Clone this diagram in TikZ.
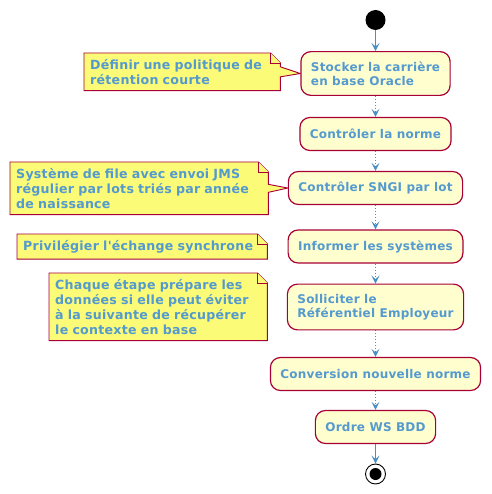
\documentclass[tikz,border=0pt]{standalone}
\usepackage{fontspec}
\setmainfont{DejaVu Sans}[Ligatures=TeXOff, LetterSpace=2]
\usepackage{tikz}
\usetikzlibrary{arrows.meta}
\definecolor{umltext}{RGB}{84,154,206}
\definecolor{umlarrow}{RGB}{74,143,196}
\definecolor{umlborder}{HTML}{A80036}
\definecolor{umlfill}{HTML}{FEFECE}
\definecolor{umlnote}{HTML}{FBFB77}
\pgfdeclarelayer{nodelayer}
\pgfdeclarelayer{edgelayer}
\pgfsetlayers{edgelayer,nodelayer,main}
\tikzstyle{activity}=[fill=umlfill, draw=umlborder, line width=1.2pt, rounded corners=10pt, shape=rectangle, align=left, inner xsep=10pt, inner ysep=10pt, minimum height=33pt, text=umltext, font=\fontsize{12}{14}\selectfont\bfseries]
\tikzstyle{comment}=[shape=rectangle, anchor=north west, align=left, inner xsep=6pt, inner ysep=6pt, text=umltext, font=\fontsize{12.6}{15}\selectfont\bfseries]
\tikzstyle{comment shape}=[fill=umlnote, draw=umlborder, line width=0.9pt]
\tikzstyle{start node}=[shape=circle, fill=black, minimum size=20pt, inner sep=0pt]
\tikzstyle{end node}=[shape=circle, draw=black, fill=white, line width=0.9pt, minimum size=20pt, inner sep=0pt]
\tikzstyle{flow}=[draw=umlarrow, line width=1.1pt, -{Stealth[length=8pt, width=8pt, inset=3.5pt]}]
\tikzstyle{dotted flow}=[flow, dash pattern=on 1pt off 2pt]

\begin{document}
\begin{tikzpicture}[x=1pt, y=-1pt]
	\useasboundingbox (0, 0) rectangle (491, 494);
	\begin{pgfonlayer}{nodelayer}
		\node [style=start node] (0) at (375.5, 20) {};
		\node [style=activity] (1) at (375.5, 73.5) {Stocker la carrière\\en base Oracle};
		\node [style=activity] (2) at (375.5, 134) {Contrôler la norme};
		\node [style=activity] (3) at (375.5, 188) {Contrôler SNGI par lot};
		\node [style=activity] (4) at (375.5, 246.5) {Informer les systèmes};
		\node [style=activity] (5) at (375.5, 307) {Solliciter le\\Référentiel Employeur};
		\node [style=activity] (6) at (375.5, 374) {Conversion nouvelle norme};
		\node [style=activity] (7) at (375.5, 427) {Ordre WS BDD};
		\node [style=end node] (8) at (375.5, 474) {};
		\fill (8) circle (6pt);
		% notes
		\node [style=comment, text width=184pt] (9) at (84, 53) {Définir une politique de\\rétention courte};
		\node [style=comment, text width=246pt] (10) at (10, 162) {Système de file avec envoi JMS\\régulier par lots triés par année\\de naissance};
		\node [style=comment, text width=238pt] (11) at (17, 234) {Privilégier l'échange synchrone};
		\node [style=comment, text width=206pt] (12) at (49, 273) {Chaque étape prépare les\\données si elle peut éviter\\à la suivante de récupérer\\le contexte en base};
	\end{pgfonlayer}
	\begin{pgfonlayer}{edgelayer}
		\draw [style=comment shape] (9.south west) -- (9.north west) -- ([xshift=-10pt]9.north east) -- ([yshift=-10pt]9.north east) -- ([yshift=5pt]9.east) -- (1.west) -- ([yshift=-5pt]9.east) -- (9.south east) -- cycle;
		\draw [style=comment shape] ([xshift=-10pt]9.north east) -- ([xshift=-10pt, yshift=-10pt]9.north east) -- ([yshift=-10pt]9.north east);
		\draw [style=comment shape] (10.south west) -- (10.north west) -- ([xshift=-10pt]10.north east) -- ([yshift=-10pt]10.north east) -- ([yshift=4pt]10.east) -- (3.west) -- ([yshift=-4pt]10.east) -- (10.south east) -- cycle;
		\draw [style=comment shape] ([xshift=-10pt]10.north east) -- ([xshift=-10pt, yshift=-10pt]10.north east) -- ([yshift=-10pt]10.north east);
		\draw [style=comment shape] (11.south west) -- (11.north west) -- ([xshift=-10pt]11.north east) -- ([yshift=-10pt]11.north east) -- (11.south east) -- cycle;
		\draw [style=comment shape] ([xshift=-10pt]11.north east) -- ([xshift=-10pt, yshift=-10pt]11.north east) -- ([yshift=-10pt]11.north east);
		\draw [style=comment shape] (12.south west) -- (12.north west) -- ([xshift=-10pt]12.north east) -- ([yshift=-10pt]12.north east) -- (12.south east) -- cycle;
		\draw [style=comment shape] ([xshift=-10pt]12.north east) -- ([xshift=-10pt, yshift=-10pt]12.north east) -- ([yshift=-10pt]12.north east);
		% flow
		\draw [style=flow] (0) to (1);
		\draw [style=dotted flow] (1) to (2);
		\draw [style=dotted flow] (2) to (3);
		\draw [style=dotted flow] (3) to (4);
		\draw [style=dotted flow] (4) to (5);
		\draw [style=dotted flow] (5) to (6);
		\draw [style=dotted flow] (6) to (7);
		\draw [style=flow] (7) to (8);
	\end{pgfonlayer}
\end{tikzpicture}
\end{document}
